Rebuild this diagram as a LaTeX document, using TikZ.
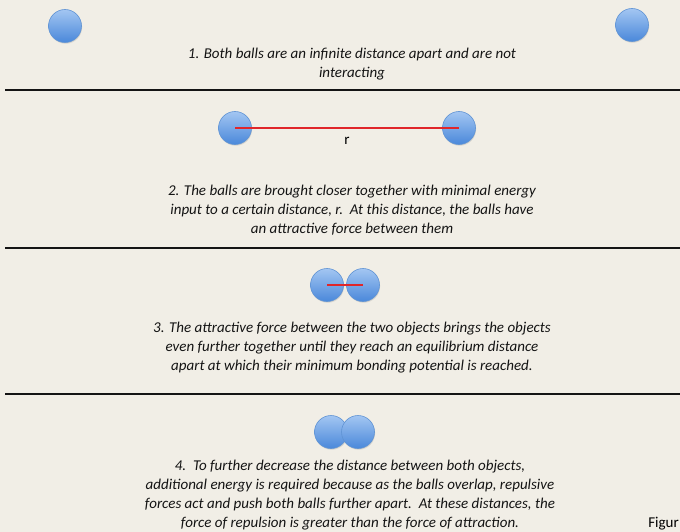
\documentclass[tikz,border=0pt]{standalone}
\usepackage{fontspec}
\setmainfont{Carlito}
\usetikzlibrary{positioning,shadows,calc}

\definecolor{paper}{HTML}{F1EEE6}
\definecolor{balltop}{HTML}{A3C6F2}
\definecolor{ballbot}{HTML}{4A88DA}
\definecolor{balledge}{HTML}{5F93D4}
\definecolor{bondred}{HTML}{E0262A}

\begin{document}
\begin{tikzpicture}[x=1pt,y=-1pt,
 ball/.style={circle,minimum size=33pt,inner sep=0pt,draw=balledge,line width=0.6pt,
  top color=balltop,bottom color=ballbot,
  drop shadow={shadow xshift=0.6pt,shadow yshift=-1.2pt,opacity=0.25}},
 caption/.style={font=\itshape\fontsize{15}{19}\selectfont,align=center,text=black!92,inner sep=0pt},
 rule/.style={line width=2.6pt,draw=black!92},
 bond/.style={draw=bondred,line width=1.6pt}]
\fill[paper] (0,0) rectangle (680,532);
\useasboundingbox (0,0) rectangle (680,532);

% stage 1
\node[ball] (a1) at (65,26) {};
\node[ball] (a2) at (632,25) {};
\node[caption] (t1) at (352,64) {1. Both balls are an infinite distance apart and are not\\interacting};
\coordinate (r1w) at (5,90);\coordinate (r1e) at (680,90);
\draw[rule] (r1w)--(r1e);

% stage 2
\node[ball] (b1) at (235,128) {};
\node[ball] (b2) at (459,128) {};
\draw[bond] (b1.center)--(b2.center);
\node[font=\fontsize{15}{17}\selectfont,below=9pt of $(b1.center)!0.5!(b2.center)$,inner sep=0pt] (r) {r};
\node[caption] (t2) at (352,210) {2. The balls are brought closer together with minimal energy\\input to a certain distance, r.\ \ At this distance, the balls have\\an attractive force between them};
\coordinate (r2w) at (5,248);\coordinate (r2e) at (680,248);
\draw[rule] (r2w)--(r2e);

% stage 3
\node[ball] (c1) at (327,285) {};
\node[ball] (c2) at (363,285) {};
\draw[bond] (c1.center)--(c2.center);
\node[caption] (t3) at (352,348) {3. The attractive force between the two objects brings the objects\\even further together until they reach an equilibrium distance\\apart at which their minimum bonding potential is reached.};
\coordinate (r3w) at (5,394);\coordinate (r3e) at (680,394);
\draw[rule] (r3w)--(r3e);

% stage 4
\node[ball] (d1) at (331,432) {};
\node[ball] (d2) at (358,432) {};
\node[caption] (t4) at (350,495) {4.\ \ To further decrease the distance between both objects,\\additional energy is required because as the balls overlap, repulsive\\forces act and push both balls further apart.\ \ At these distances, the\\force of repulsion is greater than the force of attraction.};
\node[anchor=east,font=\fontsize{15}{17}\selectfont,inner sep=0pt] (fig) at (679,524) {Figur};
\end{tikzpicture}
\end{document}
